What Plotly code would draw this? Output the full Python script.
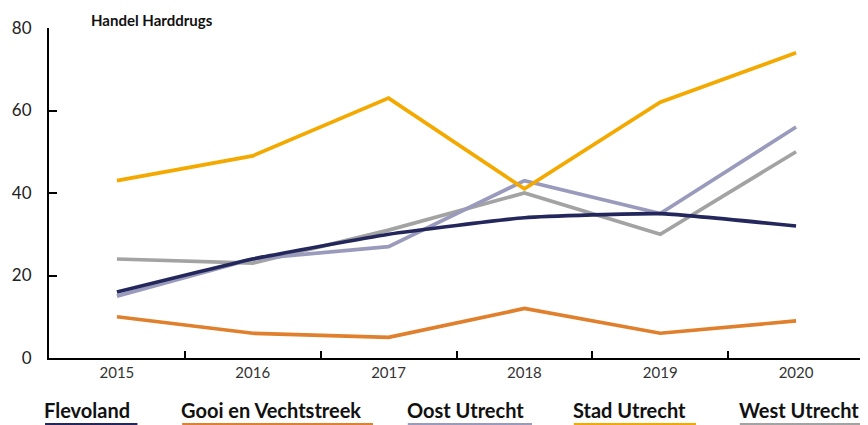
import plotly.graph_objects as go

years = ["2015", "2016", "2017", "2018", "2019", "2020"]
series_names = ["Flevoland", "Gooi en Vechtstreek", "Oost Utrecht", "Stad Utrecht", "West Utrecht"]
flevoland = [16, 24, 30, 34, 35, 32]
gooi = [10, 6, 5, 12, 6, 9]
oost = [15, 24, 27, 43, 35, 56]
stad = [43, 49, 63, 41, 62, 74]
west = [24, 23, 31, 40, 30, 50]
colors = ["#23275C", "#E07F2C", "#9A9BBC", "#F4A900", "#A3A3A3"]
y_ticks = [0, 20, 40, 60, 80]

values = [flevoland, gooi, oost, stad, west]
order = [1, 4, 2, 0, 3]  # drawing order (bottom to top)

fig = go.Figure()
for i in order:
    fig.add_trace(go.Scatter(
        x=years, y=values[i], mode="lines", name=series_names[i],
        line=dict(color=colors[i], width=3.7,
                  shape="spline" if i == 0 else "linear", smoothing=0.4),
        showlegend=False,
    ))

# page offset (browser body margin) and plot area in window pixels
OFF = 8
PL, PR, PT, PB = 44, 864, 28, 358


def px(x):
    return (x - PL) / (PR - PL)


def py(y):
    return 1 - (y - PT) / (PB - PT)


legend_x = [40, 178, 405, 572, 739]
legend_w = [93, 192, 125, 123, 126]
for name, c, lx, lw in zip(series_names, colors, legend_x, legend_w):
    fig.add_annotation(text="<b>%s</b>" % name, x=px(lx - 3), y=py(410),
                       xref="paper", yref="paper", xanchor="left", yanchor="middle",
                       showarrow=False, font=dict(size=20, color="#111111"))
    fig.add_shape(type="line", xref="paper", yref="paper",
                  x0=px(lx), x1=px(lx + lw), y0=py(424), y1=py(424),
                  line=dict(color=c, width=2))

fig.add_annotation(text="<b>Handel Harddrugs</b>", x=px(84), y=py(20),
                   xref="paper", yref="paper", xanchor="left", yanchor="middle",
                   showarrow=False, font=dict(size=15, color="#111111"))

fig.update_layout(
    width=868 - OFF, height=425 - OFF,
    margin=dict(l=PL - OFF, r=868 - OFF - (PR - OFF), t=PT - OFF, b=425 - OFF - (PB - OFF)),
    plot_bgcolor="white", paper_bgcolor="white",
    font=dict(family="Lato, sans-serif", color="#222222"),
    hovermode=False,
    xaxis=dict(
        type="category", range=[-0.5, 5.5], tickson="boundaries",
        ticks="inside", ticklen=7, tickwidth=2, tickcolor="black",
        showline=True, linewidth=2, linecolor="black",
        showgrid=False, zeroline=False, tickfont=dict(size=15, color="#333333"),
    ),
    yaxis=dict(
        range=[0, 80], tickvals=y_ticks, ticks="inside", ticklen=8, tickwidth=2,
        tickcolor="black", showline=True, linewidth=2, linecolor="black",
        showgrid=False, zeroline=False, tickfont=dict(size=17, color="#222222"),
        ticklabelstandoff=12,
    ),
)
fig.write_html("out.html")
